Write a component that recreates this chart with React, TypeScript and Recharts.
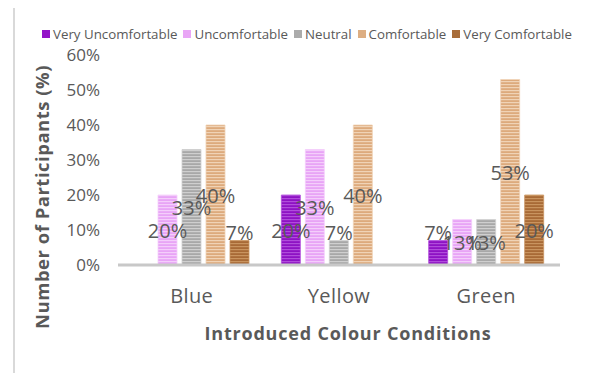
import { BarChart, Bar, XAxis, YAxis, LabelList, Label } from 'recharts';

const conditions = ['Blue', 'Yellow', 'Green'];
const veryUncomfortable = [0, 0.2, 0.07];
const uncomfortable = [0.2, 0.33, 0.13];
const neutral = [0.33, 0.07, 0.13];
const comfortable = [0.4, 0.4, 0.53];
const veryComfortable = [0.07, 0, 0.2];
const yTicks = [0, 0.1, 0.2, 0.3, 0.4, 0.5, 0.6];

const series = [
  { key: 'vu', name: 'Very Uncomfortable', values: veryUncomfortable, base: '#8E12C4', stripe: '#B04DDB', swatch: '#9414C8' },
  { key: 'u', name: 'Uncomfortable', values: uncomfortable, base: '#E8A4F6', stripe: '#F4CEFB', swatch: '#E9A6F6' },
  { key: 'n', name: 'Neutral', values: neutral, base: '#A8A8A8', stripe: '#CFCFCF', swatch: '#ABABAB' },
  { key: 'c', name: 'Comfortable', values: comfortable, base: '#DDAA7C', stripe: '#F0D3B6', swatch: '#DDAE82' },
  { key: 'vc', name: 'Very Comfortable', values: veryComfortable, base: '#A86A36', stripe: '#C9945F', swatch: '#A86D3A' },
];

const data = conditions.map((c, i) => {
  const row: Record<string, string | number> = { name: c };
  series.forEach((s) => {
    row[s.key] = s.values[i];
  });
  return row;
});

const pct = (v: number) => `${Math.round(v * 100)}%`;
const font = '"Open Sans", sans-serif';

const YTitle = (props: any) => {
  const { viewBox } = props;
  const x = viewBox.x + 41;
  const y = viewBox.y + viewBox.height / 2 + 37;
  return (
    <text x={x} y={y} transform={`rotate(-90 ${x} ${y})`} textAnchor="middle" dominantBaseline="central"
      fill="#595959" fontSize={18.5} fontWeight={700} fontFamily={font} letterSpacing={0.5}>
      Number of Participants (%)
    </text>
  );
};

// data label: centred in the bar, lifted above short bars like Excel's best fit
const BarLabel = (props: any) => {
  const { x, y, width, height, value } = props;
  if (!value) return null;
  const cy = height < 30 ? y - 8 : y + height / 2;
  return (
    <text x={x + width / 2} y={cy} textAnchor="middle" dominantBaseline="central"
      fill="#595959" fontSize={20} fontFamily={font}>
      {pct(value)}
    </text>
  );
};

const App = () => {
  return (
    <div style={{ margin: -8, width: 592, height: 381, position: 'relative', overflow: 'hidden', background: '#fff' }}>
      <div style={{ position: 'absolute', left: 13, top: 5, width: 569, height: 400, border: '2px solid #d9d9d9' }} />
      <div style={{ position: 'absolute', left: 0, top: 0 }}>
        <BarChart width={592} height={381} data={data} margin={{ top: 55, right: 32, bottom: 86, left: 0 }}
          barCategoryGap={16} barGap={5}>
          <defs>
            {series.map((s) => (
              <pattern key={s.key} id={`stripe-${s.key}`} width={4} height={3} patternUnits="userSpaceOnUse">
                <rect width={4} height={3} fill={s.base} />
                <rect y={0} width={4} height={1.2} fill={s.stripe} />
              </pattern>
            ))}
          </defs>
          <XAxis dataKey="name" height={30} axisLine={{ stroke: '#c8c8c8', strokeWidth: 3 }} tickLine={false}
            tick={{ fill: '#595959', fontSize: 20, fontFamily: font, letterSpacing: 0.4 }} tickMargin={18}>
            <Label value="Introduced Colour Conditions" position="bottom" offset={32} dx={9}
              fill="#595959" fontSize={18} fontWeight={700} fontFamily={font} letterSpacing={0.8} />
          </XAxis>
          <YAxis width={118} domain={[0, 0.6]} ticks={yTicks} tickFormatter={pct} axisLine={false} tickLine={false}
            tickSize={0} tickMargin={18} tick={{ fill: '#595959', fontSize: 17, fontFamily: font }}
            label={<YTitle />} />
          {series.map((s) => (
            <Bar key={s.key} dataKey={s.key} name={s.name} fill={`url(#stripe-${s.key})`} stroke={s.stripe}
              strokeWidth={0.8} isAnimationActive={false}>
              <LabelList dataKey={s.key} content={<BarLabel />} />
            </Bar>
          ))}
        </BarChart>
      </div>
      <div style={{ position: 'absolute', left: 42, top: 26, display: 'flex', gap: 6, fontFamily: font,
        fontSize: 13.3, color: '#595959', whiteSpace: 'nowrap', lineHeight: '16px' }}>
        {series.map((s) => (
          <div key={s.key} style={{ display: 'flex', alignItems: 'center', gap: 3 }}>
            <span style={{ width: 8, height: 8, background: s.swatch, display: 'inline-block' }} />
            <span>{s.name}</span>
          </div>
        ))}
      </div>
    </div>
  );
};

export default App;
